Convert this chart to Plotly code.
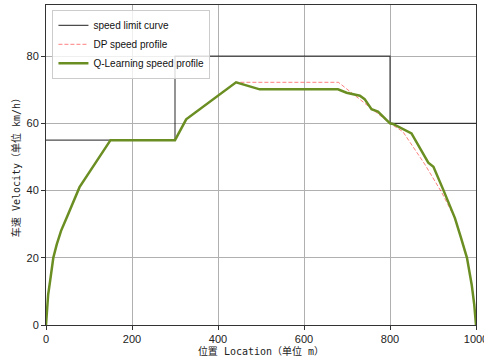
import plotly.graph_objects as go

# Speed limit (step curve)
limit_x = [0, 300, 300, 800, 800, 1000]
limit_v = [55, 55, 80, 80, 60, 60]

# DP speed profile
dp_x = [0, 2, 5, 10, 17, 25, 35, 50, 65, 78, 150, 300, 326, 442, 680, 800, 830, 880, 920, 950, 965, 979, 990, 996, 1000]
dp_v = [0, 5, 9, 13.5, 20, 24, 28, 32.5, 37, 41, 55, 55, 61.2, 72.2, 72.2, 60, 57.5, 48, 39.5, 32, 26, 20, 12, 6, 0]

# Q-Learning speed profile
q_x = [0, 2, 5, 10, 17, 25, 35, 50, 65, 78, 150, 300, 326, 442, 497, 679, 699, 730, 741, 757, 772, 800, 807, 827, 850, 889, 901, 924, 951, 965, 979, 990, 996, 1000]
q_v = [0, 5, 9, 13.5, 20, 24, 28, 32.5, 37, 41, 55, 55, 61.2, 72.2, 70.1, 70.1, 69.1, 68.2, 67.2, 64.2, 63.5, 60, 59.8, 58.5, 57, 48.3, 47.1, 40.2, 31.8, 26, 20, 12, 6, 0]

fig = go.Figure()
fig.add_trace(go.Scatter(x=limit_x, y=limit_v, mode="lines", name="speed limit curve",
                         line=dict(color="rgba(0,0,0,0.7)", width=1.2)))
fig.add_trace(go.Scatter(x=dp_x, y=dp_v, mode="lines", name="DP speed profile",
                         line=dict(color="rgba(255,0,0,0.5)", width=1, dash="4px,2px")))
fig.add_trace(go.Scatter(x=q_x, y=q_v, mode="lines", name="Q-Learning speed profile",
                         line=dict(color="#6b8e23", width=2.5)))

font_cjk = "DejaVu Sans Mono, Noto Sans CJK SC, sans-serif"
axis_common = dict(showgrid=True, gridcolor="#b0b0b0", gridwidth=0.8,
                   showline=True, linecolor="#333333", linewidth=1, mirror=True,
                   ticks="outside", ticklen=4, tickcolor="#333333",
                   tickfont=dict(family="Liberation Sans, Arial, sans-serif", size=11, color="#222222"),
                   zeroline=False, automargin=False, ticklabeloverflow="allow")

fig.update_layout(
    width=484, height=360,
    margin=dict(l=46, r=8, t=5, b=35),
    plot_bgcolor="white", paper_bgcolor="white",
    showlegend=True,
    legend=dict(x=0.015, y=0.985, xanchor="left", yanchor="top",
                bgcolor="rgba(255,255,255,0.8)", bordercolor="#cccccc", borderwidth=1,
                font=dict(family="Liberation Sans, Arial, sans-serif", size=10, color="#111111"),
                tracegroupgap=0, itemwidth=30),
    xaxis=dict(range=[0, 1000], tickvals=[0, 200, 400, 600, 800, 1000],
               title=dict(text="位置 Location（单位 m）", standoff=2,
                          font=dict(family=font_cjk, size=10, color="#222222")),
               **axis_common),
    yaxis=dict(range=[0, 95.2], tickvals=[0, 20, 40, 60, 80],
               title=dict(text="车速 Velocity（单位 km/h）", standoff=4,
                          font=dict(family=font_cjk, size=10, color="#222222")),
               **axis_common),
)

fig.write_html("out.html", config={"displayModeBar": False},
               post_script="document.body.style.margin='0';document.body.style.overflow='hidden';")
